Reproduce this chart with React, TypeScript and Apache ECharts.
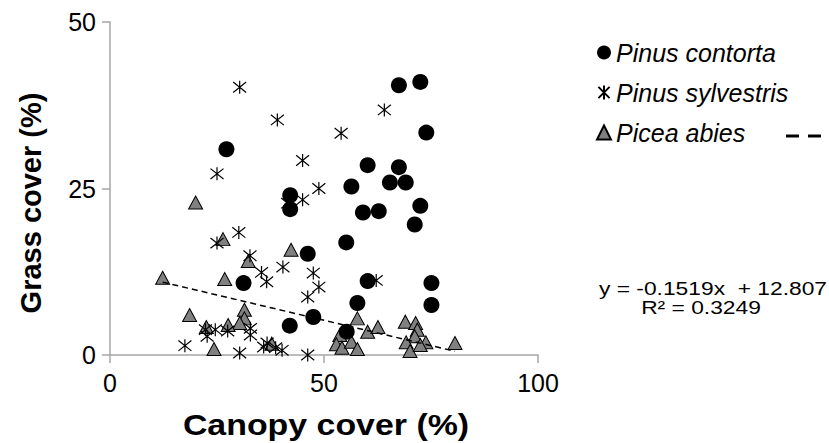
import React, { useEffect, useRef } from "react";
import * as echarts from "echarts";

const contortaPoints: number[][] = [
  [27.2, 30.9], [31.2, 10.8], [42.1, 24.0], [42.1, 21.9], [46.2, 15.2], [42.0, 4.4],
  [47.5, 5.7], [67.5, 40.5], [72.5, 41.0], [73.9, 33.4], [60.2, 28.5], [67.5, 28.2],
  [56.4, 25.3], [65.4, 25.9], [69.1, 25.9], [59.1, 21.4], [62.8, 21.6], [72.5, 22.4],
  [71.2, 19.6], [55.2, 16.9], [60.2, 11.1], [75.1, 10.8], [57.8, 7.8], [75.1, 7.5],
  [55.3, 3.5],
];

const sylvestrisPoints: number[][] = [
  [30.3, 40.2], [39.1, 35.3], [45.0, 29.2], [25.0, 27.2], [48.8, 25.0], [64.1, 36.8],
  [54.0, 33.3], [41.5, 22.8], [45.0, 23.3], [30.1, 18.4], [25.0, 16.8], [32.7, 14.9],
  [35.4, 12.4], [36.6, 11.0], [40.4, 13.2], [47.5, 12.3], [48.8, 10.2], [46.2, 8.7],
  [17.5, 1.4], [30.3, 0.3], [46.2, 0.0], [22.3, 3.8], [22.7, 2.8], [24.6, 3.8],
  [27.5, 3.6], [32.8, 4.0], [32.8, 3.0], [36.7, 1.8], [35.9, 1.2], [38.7, 1.1],
  [40.2, 0.7], [62.2, 11.2],
];

const abiesPoints: number[][] = [
  [20.0, 22.9], [26.4, 17.4], [42.3, 15.8], [32.3, 14.1], [12.3, 11.6], [26.8, 11.4],
  [18.6, 6.0], [31.4, 6.8], [31.4, 5.5], [30.3, 4.8], [22.5, 4.2], [27.6, 4.5],
  [24.3, 0.9], [37.8, 1.7], [57.8, 5.5], [60.2, 3.5], [62.6, 4.2], [53.7, 3.0],
  [52.9, 1.6], [54.2, 1.1], [56.4, 2.0], [57.8, 0.9], [69.0, 5.0], [71.4, 4.8],
  [71.8, 3.8], [71.2, 2.8], [69.2, 1.9], [73.8, 1.9], [70.1, 0.6], [72.5, 1.5],
  [80.6, 1.8],
];

const trendPoints: number[][] = [[12.3, 10.94], [80.6, 0.56]];

const seriesNames = ["Pinus contorta", "Pinus sylvestris", "Picea abies"];
const xTicks = [0, 50, 100];
const yTicks = [0, 25, 50];
const xTitle = "Canopy cover (%)";
const yTitle = "Grass cover (%)";
const equationText = "y = -0.1519x  + 12.807";
const r2Text = "R² = 0.3249";

const STAR = "path://M-1,-1 L1,1 M-1,1 L1,-1 M0,-1.25 L0,1.25";
const FONT = "Liberation Sans, Arial, sans-serif";

export default function App() {
  const ref = useRef<HTMLDivElement>(null);
  useEffect(() => {
    if (!ref.current) return;
    const chart = echarts.init(ref.current, undefined, { renderer: "svg" });
    const axisGray = "#a6a6a6";
    chart.setOption({
      animation: false,
      backgroundColor: "#ffffff",
      textStyle: { fontFamily: FONT },
      grid: { left: 110, right: 291, top: 22, bottom: 88, containLabel: false },
      xAxis: {
        type: "value",
        min: xTicks[0],
        max: xTicks[xTicks.length - 1],
        interval: 50,
        axisLine: { show: true, lineStyle: { color: axisGray, width: 1.5 } },
        axisTick: { show: true, inside: false, length: 8, lineStyle: { color: axisGray, width: 1.5 } },
        axisLabel: { fontSize: 25, color: "#000", margin: 15, fontFamily: FONT },
        splitLine: { show: false },
      },
      yAxis: {
        type: "value",
        min: yTicks[0],
        max: yTicks[yTicks.length - 1],
        interval: 25,
        axisLine: { show: true, lineStyle: { color: axisGray, width: 1.5 } },
        axisTick: { show: true, inside: false, length: 8, lineStyle: { color: axisGray, width: 1.5 } },
        axisLabel: { fontSize: 25, color: "#000", margin: 14, fontFamily: FONT },
        splitLine: { show: false },
      },
      legend: {
        orient: "vertical",
        left: 591,
        top: 35,
        itemGap: 15,
        itemWidth: 14,
        itemHeight: 14,
        data: seriesNames,
        textStyle: { fontSize: 25, fontStyle: "italic", color: "#000", fontFamily: FONT },
      },
      series: [
        {
          name: seriesNames[0],
          type: "scatter",
          data: contortaPoints,
          symbol: "circle",
          symbolSize: 16,
          z: 4,
          itemStyle: { color: "#000000", opacity: 1 },
        },
        {
          name: seriesNames[1],
          type: "scatter",
          data: sylvestrisPoints,
          symbol: STAR,
          symbolSize: 13,
          z: 3,
          itemStyle: { color: "rgba(0,0,0,0)", borderColor: "#000", borderWidth: 1.2, opacity: 1 },
        },
        {
          name: seriesNames[2],
          type: "scatter",
          data: abiesPoints,
          symbol: "triangle",
          symbolSize: [14, 13],
          z: 2,
          itemStyle: { color: "#808080", borderColor: "#000", borderWidth: 1, opacity: 1 },
        },
        {
          name: "trend",
          type: "line",
          data: trendPoints,
          symbol: "none",
          z: 5,
          lineStyle: { color: "#000", width: 1.5, type: [6, 4] },
        },
      ],
      graphic: [
        {
          type: "line",
          shape: { x1: 786, y1: 136, x2: 829, y2: 136 },
          style: { stroke: "#000", lineWidth: 3, lineDash: [13, 9] },
        },
        {
          type: "text",
          x: 326,
          y: 425,
          scaleX: 1.13,
          style: {
            text: xTitle,
            fontSize: 30,
            fontWeight: "bold",
            fontFamily: FONT,
            fill: "#000",
            align: "center",
            verticalAlign: "middle",
          },
        },
        {
          type: "text",
          x: 31,
          y: 203,
          rotation: Math.PI / 2,
          style: {
            text: yTitle,
            fontSize: 29,
            fontWeight: "bold",
            fontFamily: FONT,
            fill: "#000",
            align: "center",
            verticalAlign: "middle",
          },
        },
        {
          type: "text",
          x: 713,
          y: 288,
          scaleX: 1.2,
          style: {
            text: equationText,
            fontSize: 19,
            fontFamily: FONT,
            fill: "#000",
            align: "center",
            verticalAlign: "middle",
          },
        },
        {
          type: "text",
          x: 701,
          y: 307,
          scaleX: 1.2,
          style: {
            text: r2Text,
            fontSize: 19,
            fontFamily: FONT,
            fill: "#000",
            align: "center",
            verticalAlign: "middle",
          },
        },
      ],
    });
    return () => chart.dispose();
  }, []);
  return (
    <div
      ref={ref}
      style={{ position: "fixed", left: 0, top: 0, width: 829, height: 443, background: "#fff" }}
    />
  );
}
